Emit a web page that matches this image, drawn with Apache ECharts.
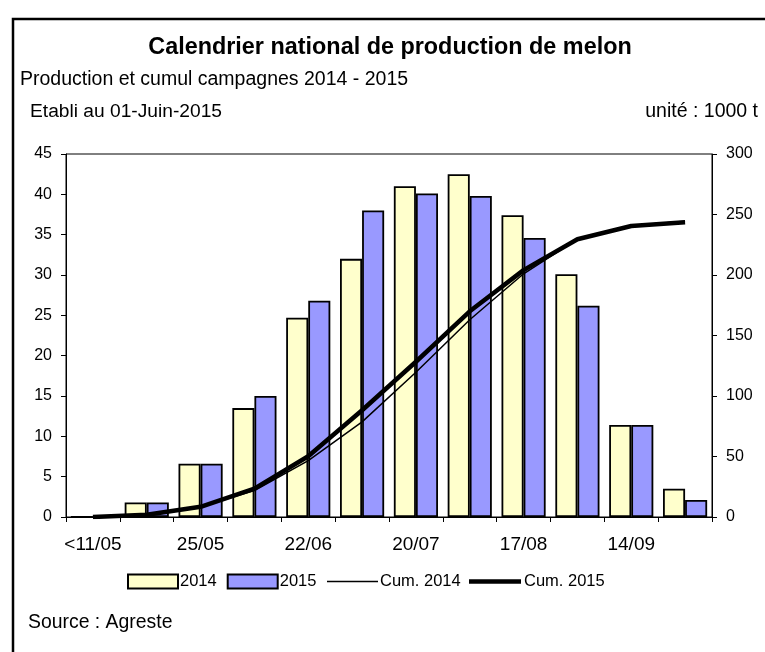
<!DOCTYPE html>
<html>
<head>
<meta charset="utf-8">
<script src="https://cdn.jsdelivr.net/npm/echarts@6/dist/echarts.min.js"></script>
<style>
  html, body { margin: 0; padding: 0; background: #fff; }
  #melonChart { width: 765px; height: 652px; }
</style>
</head>
<body>
<div id="melonChart"></div>
<script>
  // periodes de 2 semaines
  var categories = ['<11/05', '11/05', '25/05', '08/06', '22/06', '06/07', '20/07', '03/08', '17/08', '31/08', '14/09', '28/09'];
  var prod2014 = [0, 1.8, 6.6, 13.5, 24.7, 32.0, 41.0, 42.5, 37.4, 30.1, 11.4, 3.5];
  var prod2015 = [0, 1.8, 6.6, 15.0, 26.8, 38.0, 40.1, 39.8, 34.6, 26.2, 11.4, 2.1];
  var cum2014 = [0, 1.8, 8.4, 21.9, 46.6, 78.6, 119.6, 163, 201, 229.6, 241.0, 244.5];
  var cum2015 = [0, 1.8, 8.4, 23.4, 50.2, 88.2, 128.3, 170, 204, 229.5, 240.5, 243.5];
  var leftTicks = [0, 45, 5];
  var rightTicks = [0, 300, 50];

  var font = 'Liberation Sans, Arial, sans-serif';
  var chart = echarts.init(document.getElementById('melonChart'));

  function txt(str, x, y, size, align, bold) {
    return {
      type: 'text',
      x: x,
      y: y,
      style: {
        text: str,
        font: (bold ? 'bold ' : '') + size + 'px ' + font,
        fill: '#000',
        align: align,
        verticalAlign: 'middle'
      }
    }
  }

  var option = {
    backgroundColor: '#fff',
    animation: false,
    textStyle: { fontFamily: font, color: '#000' },
    graphic: [
      {
        type: 'rect',
        shape: { x: 13, y: 19, width: 800, height: 700 },
        style: { fill: 'none', stroke: '#000', lineWidth: 2.5 }
      },
      txt('Calendrier national de production de melon', 390, 48, 23.4, 'center', true),
      txt('Production et cumul campagnes 2014 - 2015', 20, 80, 19.5, 'left'),
      txt('Etabli au 01-Juin-2015', 30, 112, 19.2, 'left'),
      txt('unité : 1000 t', 758, 112, 19.5, 'right'),
      txt('Source : Agreste', 28, 623, 19.4, 'left')
    ],
    legend: [
      {
        left: 122,
        top: 568,
        icon: 'rect',
        itemWidth: 50,
        itemHeight: 14,
        itemGap: 10,
        textStyle: { fontSize: 16.5, fontFamily: font, color: '#000', padding: [0, 0, 0, -3] },
        data: ['2014', '2015']
      },
      {
        left: 322,
        top: 568,
        icon: 'rect',
        itemWidth: 51,
        itemHeight: 1.5,
        textStyle: { fontSize: 16.5, fontFamily: font, color: '#000', padding: [0, 0, 0, -3] },
        data: ['Cum. 2014']
      },
      {
        left: 464,
        top: 568,
        icon: 'rect',
        itemWidth: 52,
        itemHeight: 4.5,
        textStyle: { fontSize: 16.5, fontFamily: font, color: '#000', padding: [0, 0, 0, -2] },
        data: ['Cum. 2015']
      }
    ],
    grid: {
      left: 66,
      right: 53,
      top: 154,
      bottom: 135,
      show: true,
      borderColor: '#000',
      borderWidth: 1
    },
    xAxis: {
      type: 'category',
      data: categories,
      axisLine: { lineStyle: { color: '#000', width: 1 } },
      axisTick: { show: true, interval: 0, length: 5, lineStyle: { color: '#000' } },
      axisLabel: { interval: 1, fontSize: 19, color: '#000', margin: 18, fontFamily: font }
    },
    yAxis: [
      {
        type: 'value',
        min: leftTicks[0],
        max: leftTicks[1],
        interval: leftTicks[2],
        splitLine: { show: false },
        axisLine: { show: true, lineStyle: { color: '#000' } },
        axisTick: { show: true, length: 5, lineStyle: { color: '#000' } },
        axisLabel: { fontSize: 16, color: '#000', margin: 14, fontFamily: font }
      },
      {
        type: 'value',
        min: rightTicks[0],
        max: rightTicks[1],
        interval: rightTicks[2],
        splitLine: { show: false },
        axisLine: { show: true, lineStyle: { color: '#000' } },
        axisTick: { show: true, length: 5, lineStyle: { color: '#000' } },
        axisLabel: { fontSize: 16, color: '#000', margin: 14, fontFamily: font }
      }
    ],
    series: [
      {
        name: '2014',
        type: 'bar',
        yAxisIndex: 0,
        barGap: '0%',
        barCategoryGap: '18%',
        itemStyle: { color: '#FFFFCC', borderColor: '#000', borderWidth: 1.8 },
        data: prod2014
      },
      {
        name: '2015',
        type: 'bar',
        yAxisIndex: 0,
        barGap: '0%',
        barCategoryGap: '18%',
        itemStyle: { color: '#9999FF', borderColor: '#000', borderWidth: 1.8 },
        data: prod2015
      },
      {
        name: 'Cum. 2014',
        type: 'line',
        yAxisIndex: 1,
        symbol: 'none',
        z: 5,
        lineStyle: { color: '#000', width: 1.5 },
        itemStyle: { color: '#000' },
        data: cum2014
      },
      {
        name: 'Cum. 2015',
        type: 'line',
        yAxisIndex: 1,
        symbol: 'none',
        z: 6,
        lineStyle: { color: '#000', width: 4.5 },
        itemStyle: { color: '#000' },
        data: cum2015
      }
    ]
  };

  chart.setOption(option);
</script>
</body>
</html>
